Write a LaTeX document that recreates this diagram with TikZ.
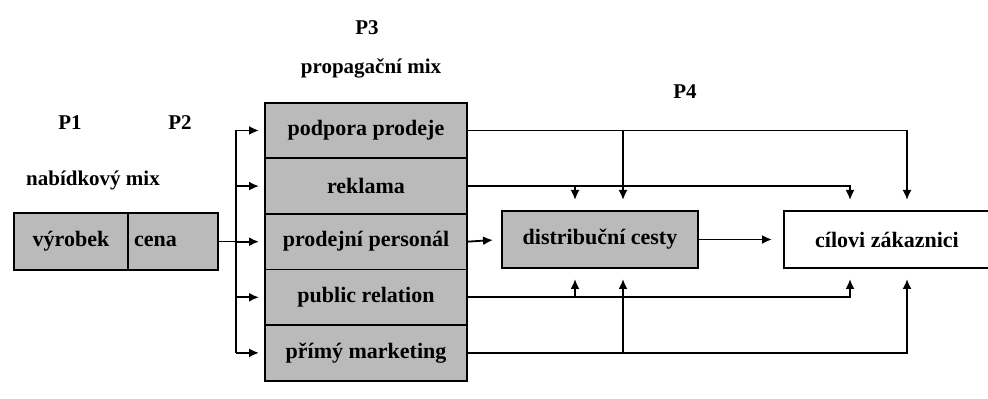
\documentclass[tikz,border=0pt]{standalone}
\usepackage{fontspec}
\setmainfont{Liberation Serif}
\usetikzlibrary{arrows.meta,positioning}

\begin{document}
\begin{tikzpicture}[x=0.5pt,y=-0.5pt,line width=0.9pt,>={Latex[length=5pt,width=4.5pt]},
    font=\fontsize{10.5}{12}\selectfont\bfseries,
    boxtext/.style={font=\fontsize{11}{13}\selectfont\bfseries},
    mixrow/.style={draw,fill=black!27,minimum width=101pt,minimum height=27.8pt,inner sep=0pt,outer sep=0pt,boxtext},
    cell/.style={draw,fill=black!27,minimum height=28.5pt,inner sep=0pt,outer sep=0pt,boxtext},
    title/.style={inner sep=0pt}]
    \useasboundingbox (0,0) rectangle (988,399);
    % P1, P2: nabidkovy mix
    \node[title] (p1) at (70,123) {P1};
    \node[title] (p2) at (180,123) {P2};
    \node[title] (nm) at (93,180) {nabídkový mix};
    \node[cell,minimum width=57pt] (vy) at (71,241.5) {výrobek};
    \node[cell,text width=39pt,inner xsep=3pt,align=left] (ce) at (173,241.5) {cena};
    % P3: propagacni mix
    \node[title] (p3) at (367,28) {P3};
    \node[title] (pmx) at (371,68) {propagační mix};
    \node[mixrow] (pp) at (366,130.5) {podpora prodeje};
    \node[mixrow,below=0pt of pp] (rk) {reklama};
    \node[mixrow,below=0pt of rk] (pe) {prodejní personál};
    \node[mixrow,below=0pt of pe] (pr) {public relation};
    \node[mixrow,below=0pt of pr] (pm) {přímý marketing};
    % P4
    \node[title] (p4) at (685,92) {P4};
    \node[cell,minimum width=98pt] (dc) at (600,239.5) {distribuční cesty};
    \node[cell,fill=white,minimum width=103pt] (cz) at (887,239.5) {cílovi zákaznici};

    \coordinate (spine) at (236,0);
    \coordinate (a1) at (575,0);
    \coordinate (a2) at (623,0);
    \coordinate (b1) at (850,0);
    \coordinate (b2) at (907,0);

    \draw (ce.east) -- (spine |- ce.east);
    \draw (spine |- pp.west) -- (spine |- pm.west);
    \foreach \r in {pp,rk,pe,pr,pm}
        \draw[->,shorten >=3pt] (spine |- \r.west) -- (\r.west);

    \draw[->,shorten >=4.5pt] (pe.east) -- (dc.west);
    \draw[->,shorten >=6pt] (dc.east) -- (cz.west);

    \draw[->,shorten >=5.5pt] (pp.east) -| (b2 |- cz.north);
    \draw[->,shorten >=5.5pt] (pp.east -| a2) -- (a2 |- dc.north);
    \draw[->,shorten >=5.5pt] (rk.east) -| (b1 |- cz.north);
    \draw[->,shorten >=5.5pt] (rk.east -| a1) -- (a1 |- dc.north);
    \draw[->,shorten >=5.5pt] (pr.east) -| (b1 |- cz.south);
    \draw[->,shorten >=5.5pt] (pr.east -| a1) -- (a1 |- dc.south);
    \draw[->,shorten >=5.5pt] (pm.east) -| (b2 |- cz.south);
    \draw[->,shorten >=5.5pt] (pm.east -| a2) -- (a2 |- dc.south);
\end{tikzpicture}
\end{document}
